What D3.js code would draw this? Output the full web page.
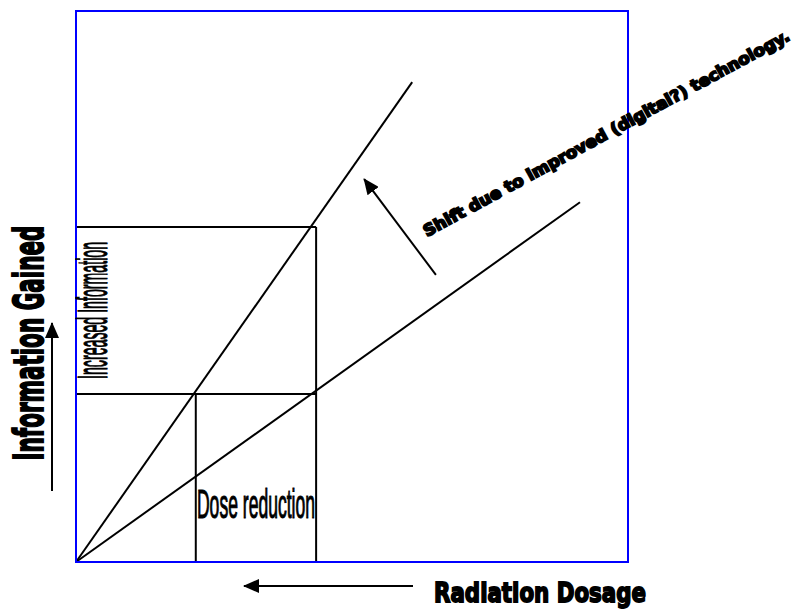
<!DOCTYPE html>
<html>
<head>
<meta charset="utf-8">
<script src="https://cdn.jsdelivr.net/npm/d3@7"></script>
<style>
  body { margin: 0; background: #fff; }
</style>
</head>
<body>
<div class="chart"></div>
<script>
// chart data (arbitrary units 0-10)
var lineNames = ["improved", "original"];
var lineEndX = [6.09, 9.13];
var lineEndY = [8.71, 6.53];
// reference dose and the two information levels
var refDose = 4.35;
var reducedDose = 2.17;
var infoLevels = [3.05, 6.08];
// shift arrow (tail -> head)
var shiftArrowX = [6.52, 5.22];
var shiftArrowY = [5.21, 6.95];

var svgWidth = 796;
var svgHeight = 615;

var margin = { top: 11, right: 168, bottom: 53, left: 76 };
var width = svgWidth - margin.left - margin.right;
var height = svgHeight - margin.top - margin.bottom;

var svg = d3.select(".chart")
  .append("svg")
  .attr("width", svgWidth)
  .attr("height", svgHeight);

var defs = svg.append("defs");
defs.append("marker")
  .attr("id", "head")
  .attr("markerUnits", "userSpaceOnUse")
  .attr("viewBox", "0 0 16 14")
  .attr("refX", 15)
  .attr("refY", 7)
  .attr("markerWidth", 16)
  .attr("markerHeight", 14)
  .attr("orient", "auto")
  .append("path")
  .attr("d", "M0,0 L16,7 L0,14 Z")
  .attr("fill", "#000");

var chartGroup = svg.append("g")
  .attr("transform", `translate(${margin.left}, ${margin.top})`);

var xScale = d3.scaleLinear().domain([0, 10]).range([0, width]);
var yScale = d3.scaleLinear().domain([0, 10]).range([height, 0]);

var line = d3.line()
  .x(d => xScale(d[0]))
  .y(d => yScale(d[1]));

// the two dose/information lines
chartGroup.selectAll(".dose-line")
  .data(lineNames)
  .enter()
  .append("path")
  .attr("class", "dose-line")
  .attr("d", (d, i) => line([[0, 0], [lineEndX[i], lineEndY[i]]]))
  .attr("stroke", "#000")
  .attr("stroke-width", 2)
  .attr("fill", "none");

// boxes
var boxLines = [
  [[0, infoLevels[1]], [refDose, infoLevels[1]]],
  [[0, infoLevels[0]], [refDose, infoLevels[0]]],
  [[refDose, 0], [refDose, infoLevels[1]]],
  [[reducedDose, 0], [reducedDose, infoLevels[0]]]
];
chartGroup.selectAll(".box-line")
  .data(boxLines)
  .enter()
  .append("path")
  .attr("class", "box-line")
  .attr("d", d => line(d))
  .attr("stroke", "#000")
  .attr("stroke-width", 2)
  .attr("fill", "none");

// shift arrow
chartGroup.append("path")
  .attr("d", line([[shiftArrowX[0], shiftArrowY[0]], [shiftArrowX[1], shiftArrowY[1]]]))
  .attr("stroke", "#000")
  .attr("stroke-width", 2)
  .attr("marker-end", "url(#head)");

// blue frame
chartGroup.append("rect")
  .attr("x", 0)
  .attr("y", 0)
  .attr("width", width)
  .attr("height", height)
  .attr("fill", "none")
  .attr("stroke", "#0000ff")
  .attr("stroke-width", 2);

// labels inside (squeezed narrow like the original)
chartGroup.append("text")
  .attr("transform", `translate(${xScale(0) + 31}, ${yScale((infoLevels[0] + infoLevels[1]) / 2)}) rotate(-90) scale(0.5, 1)`)
  .attr("text-anchor", "middle")
  .attr("font-family", "Liberation Sans Narrow, Liberation Sans")
  .attr("font-size", 42)
  .attr("stroke", "#000")
  .attr("stroke-width", 1.1)
  .attr("textLength", 274)
  .attr("lengthAdjust", "spacingAndGlyphs")
  .text("Increased Information");

chartGroup.append("text")
  .attr("transform", `translate(${xScale((reducedDose + refDose) / 2)}, ${height - 44}) scale(0.5, 1)`)
  .attr("text-anchor", "middle")
  .attr("font-family", "Liberation Sans Narrow, Liberation Sans")
  .attr("font-size", 40)
  .attr("stroke", "#000")
  .attr("stroke-width", 1.1)
  .attr("textLength", 236)
  .attr("lengthAdjust", "spacingAndGlyphs")
  .text("Dose reduction");

// shift annotation
svg.append("text")
  .attr("transform", "translate(427, 237) rotate(-28.5)")
  .attr("font-family", "DejaVu Sans")
  .attr("font-weight", "bold")
  .attr("font-size", 16)
  .attr("stroke", "#000")
  .attr("stroke-width", 1.8)
  .attr("textLength", 414)
  .attr("lengthAdjust", "spacingAndGlyphs")
  .text("Shift due to improved (digital?) technology.");

// axis titles and arrows
svg.append("text")
  .attr("transform", "translate(43, 343) rotate(-90)")
  .attr("text-anchor", "middle")
  .attr("font-family", "DejaVu Sans")
  .attr("font-weight", "bold")
  .attr("font-size", 41)
  .attr("stroke", "#000")
  .attr("stroke-width", 2)
  .attr("textLength", 235)
  .attr("lengthAdjust", "spacingAndGlyphs")
  .text("Information Gained");

svg.append("line")
  .attr("x1", 52).attr("y1", 491)
  .attr("x2", 52).attr("y2", 323)
  .attr("stroke", "#000")
  .attr("stroke-width", 2)
  .attr("marker-end", "url(#head)");

svg.append("text")
  .attr("x", 540)
  .attr("y", 602)
  .attr("text-anchor", "middle")
  .attr("font-family", "DejaVu Sans")
  .attr("font-weight", "bold")
  .attr("font-size", 27)
  .attr("stroke", "#000")
  .attr("stroke-width", 1.8)
  .attr("textLength", 212)
  .attr("lengthAdjust", "spacingAndGlyphs")
  .text("Radiation Dosage");

svg.append("line")
  .attr("x1", 413).attr("y1", 586)
  .attr("x2", 244).attr("y2", 586)
  .attr("stroke", "#000")
  .attr("stroke-width", 2)
  .attr("marker-end", "url(#head)");
</script>
</body>
</html>
